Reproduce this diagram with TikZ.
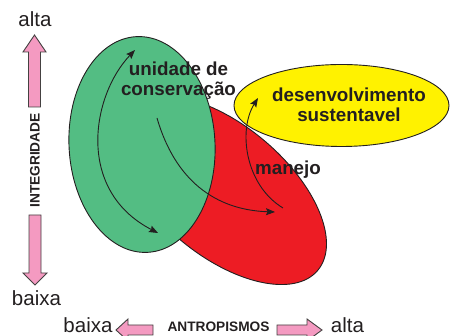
\documentclass[tikz,border=0pt]{standalone}
\usepackage{fontspec}
\setmainfont{Liberation Sans}
\usetikzlibrary{arrows.meta}
\definecolor{ucgreen}{RGB}{83,189,131}
\definecolor{mred}{RGB}{237,28,36}
\definecolor{dsyellow}{RGB}{255,242,0}
\definecolor{apink}{RGB}{244,154,193}
\definecolor{ink}{RGB}{35,31,32}
\begin{document}
\begin{tikzpicture}[x=1pt,y=-1pt,
  blob/.style={draw=ink, line width=0.9pt},
  flow/.style={draw=ink, line width=0.9pt, -{Stealth[length=9pt,width=7pt,inset=1.5pt]}},
  bflow/.style={draw=ink, line width=0.9pt, {Stealth[length=9pt,width=7pt,inset=1.5pt]}-{Stealth[length=9pt,width=7pt,inset=1.5pt]}},
  blockarrow/.style={draw=ink!85, fill=apink, line width=0.9pt, line join=miter},
  bigbold/.style={font=\fontsize{18.8}{20.5}\selectfont\bfseries, text=ink, align=center, inner sep=0pt},
  axislabel/.style={font=\fontsize{20.5}{24}\selectfont, text=ink, inner sep=0pt},
  axistitle/.style={font=\fontsize{13.7}{16}\selectfont\bfseries, text=ink, inner sep=0pt},
]
\useasboundingbox (0,0) rectangle (451,336);
\clip (0,0) rectangle (451,336);

% ellipses
\draw[blob, fill=mred, rotate around={-40:(222,190)}] (222,190) ellipse [x radius=125pt, y radius=65pt];
\draw[blob, fill=ucgreen, rotate around={3:(142,144.5)}] (142,144.5) ellipse [x radius=73pt, y radius=108pt];
\draw[blob, fill=dsyellow] (341.5,105.5) ellipse [x radius=107.5pt, y radius=41pt];

% curved arrows
\coordinate (g1) at (135,50);
\coordinate (g2) at (158,233);
\coordinate (c1) at (157,118);
\coordinate (c2) at (275,212);
\coordinate (m1) at (283,208);
\coordinate (m2) at (258,98);
\draw[bflow] (g1) .. controls (92,95) and (75,190) .. (g2);
\draw[flow] (c1) .. controls (175,180) and (215,210) .. (c2);
\draw[flow] (m1) .. controls (245,185) and (238,130) .. (m2);

% texts
\node[bigbold] (uc) at (178.5,80.6) {unidade de\\conservação};
\node[bigbold] (ds) at (349,104.9) {desenvolvimento\\sustentavel};
\node[bigbold, anchor=base] (mj) at (288,175) {manejo};

% vertical axis
\draw[blockarrow] (28.5,107) -- (28.5,52) -- (23,52) -- (34.5,35) -- (46,52) -- (40.5,52) -- (40.5,107) -- cycle;
\draw[blockarrow] (29,215) -- (29,273) -- (23,273) -- (35,285) -- (47,273) -- (41,273) -- (41,215) -- cycle;
\node[axislabel, anchor=base] (ya) at (35,27) {alta};
\node[axislabel, anchor=base] (yb) at (36.5,306) {baixa};
\node[axistitle, rotate=90] (yt) at (35,160.5) {INTEGRIDADE};

% horizontal axis
\draw[blockarrow] (153,325) -- (128,325) -- (128,319) -- (116,330) -- (128,341) -- (128,335) -- (153,335) -- cycle;
\draw[blockarrow] (277,325) -- (307,325) -- (307,319) -- (322,330) -- (307,341) -- (307,335) -- (277,335) -- cycle;
\node[axislabel, anchor=base, text depth=0pt] (xb) at (88,332.5) {baixa};
\node[axislabel, anchor=base, text depth=0pt] (xa) at (347.5,332.5) {alta};
\node[axistitle, anchor=base] (xt) at (218.5,332) {ANTROPISMOS};
\end{tikzpicture}
\end{document}
